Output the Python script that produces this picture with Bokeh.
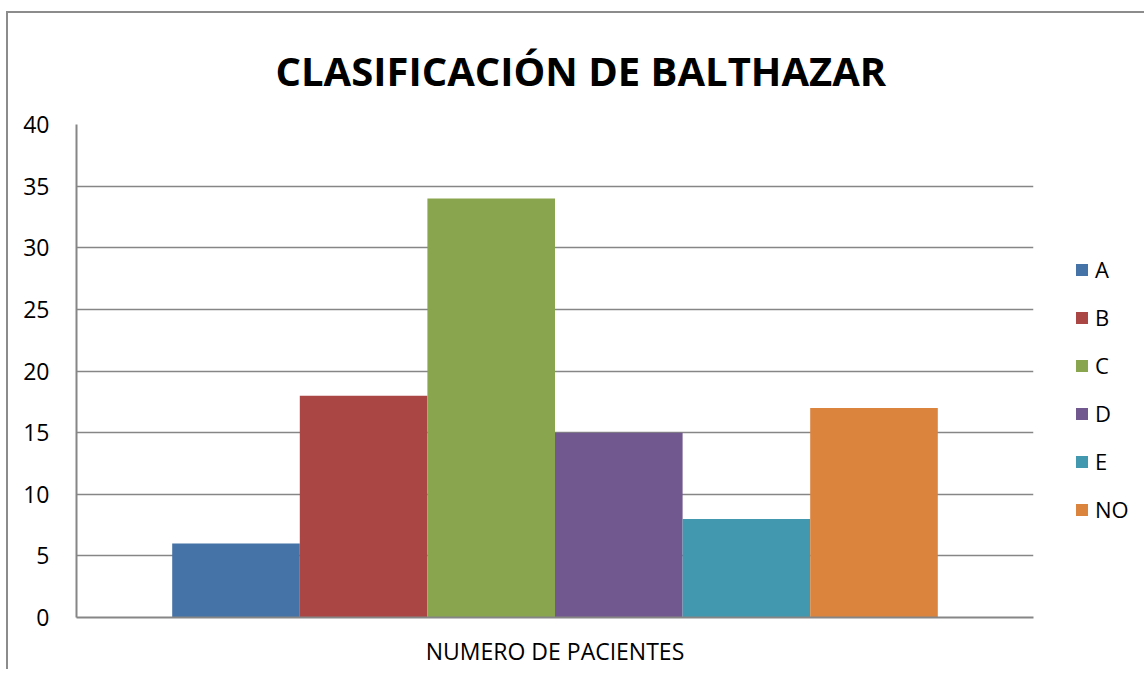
from bokeh.plotting import figure
from bokeh.models import Range1d, FixedTicker, Legend, LegendItem, ColumnDataSource
from bokeh.embed import file_html
from bokeh.resources import INLINE

categories = ["A", "B", "C", "D", "E", "NO"]
values = [6, 18, 34, 15, 8, 17]
colors = ["#4572A7", "#AA4643", "#89A54E", "#71588F", "#4198AF", "#DB843D"]
title_text = "CLASIFICACIÓN DE BALTHAZAR"
x_label = "NUMERO DE PACIENTES"
y_ticks = [0, 5, 10, 15, 20, 25, 30, 35, 40]

FONT = "Open Sans"

p = figure(width=1130, height=655, output_backend="svg", toolbar_location=None,
           x_range=Range1d(0, 7.5), y_range=Range1d(0, 40),
           min_border_left=68, min_border_right=10, min_border_top=111, min_border_bottom=40)
p.frame_width = 957
p.frame_height = 493
p.outline_line_color = None
p.styles = {"border": "2px solid #8c8c8c", "border-bottom": "none",
            "margin-left": "6px", "margin-top": "11px"}

renderers = []
for i, (c, v, col) in enumerate(zip(categories, values, colors)):
    src = ColumnDataSource(dict(x=[1.25 + i], top=[v]))
    r = p.vbar(x="x", top="top", width=1.0, bottom=0, source=src,
               fill_color=col, line_color=None)
    renderers.append((c, r))

# axes
p.yaxis.ticker = FixedTicker(ticks=y_ticks)
p.yaxis.major_tick_line_color = None
p.yaxis.minor_tick_line_color = None
p.yaxis.axis_line_color = "#868686"
p.yaxis.axis_line_width = 2
p.yaxis.major_label_text_font = FONT
p.yaxis.major_label_text_font_size = "23px"
p.yaxis.major_label_text_color = "#000000"
p.yaxis.major_label_standoff = 21

p.xaxis.ticker = FixedTicker(ticks=[3.75])
p.xaxis.major_label_overrides = {3.75: x_label}
p.xaxis.major_tick_line_color = None
p.xaxis.minor_tick_line_color = None
p.xaxis.axis_line_color = "#868686"
p.xaxis.axis_line_width = 2
p.xaxis.major_label_text_font = FONT
p.xaxis.major_label_text_font_size = "23px"
p.xaxis.major_label_text_color = "#000000"
p.xaxis.major_label_standoff = 11

p.xgrid.grid_line_color = None
p.ygrid.ticker = FixedTicker(ticks=y_ticks)
p.ygrid.grid_line_color = "#868686"
p.ygrid.grid_line_width = 1.5

# title
p.title.text = title_text
p.title.text_font = FONT
p.title.text_font_size = "40px"
p.title.text_font_style = "bold"
p.title.align = "left"
p.title.text_color = "#000000"
p.title.offset = 199
p.title.standoff = 54

legend = Legend(items=[LegendItem(label=c, renderers=[r]) for c, r in renderers],
                location=(41, 93), orientation="vertical",
                glyph_width=15, glyph_height=15, label_standoff=6,
                spacing=18, padding=0, margin=0,
                label_text_font=FONT, label_text_font_size="22px",
                label_text_color="#000000",
                border_line_color=None, background_fill_alpha=0)
p.add_layout(legend, "right")

open("out.html", "w").write(file_html(p, INLINE))
